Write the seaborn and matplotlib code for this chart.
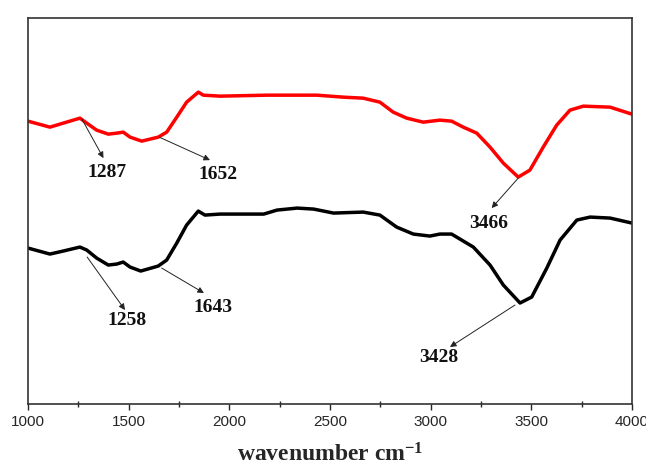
import numpy as np
import pandas as pd
import matplotlib
matplotlib.use("Agg")
import matplotlib.pyplot as plt
import seaborn as sns

# wavenumber (cm^-1) and relative transmittance (arbitrary units)
red_wn = [1000, 1109, 1175, 1258, 1292, 1341, 1399, 1441, 1473, 1507, 1565, 1647, 1689, 1739,
          1788, 1846, 1871, 1954, 2186, 2434, 2566, 2665, 2748, 2814, 2881, 2963, 3046,
          3104, 3162, 3229, 3295, 3361, 3435, 3493, 3559, 3626, 3692, 3758, 3891, 4000]
red_T = [283, 277, 281, 286, 281, 274, 270, 271, 272, 267, 263, 267, 272, 287,
         302, 312, 309, 308, 309, 309, 307, 306, 302, 292, 286, 282, 284,
         283, 277, 271, 257, 241, 227, 234, 257, 279, 294, 298, 297, 290]

black_wn = [1000, 1109, 1175, 1258, 1292, 1341, 1399, 1441, 1473, 1507, 1560, 1647, 1689, 1739,
            1788, 1846, 1879, 1954, 2171, 2237, 2337, 2419, 2518, 2665, 2748, 2831, 2914,
            2996, 3046, 3104, 3212, 3295, 3361, 3444, 3502, 3577, 3643, 3726, 3792, 3891, 4000]
black_T = [156, 150, 153, 157, 154, 146, 139, 140, 142, 137, 133, 138, 144, 161,
           179, 193, 189, 190, 190, 194, 196, 195, 191, 192, 189, 177, 170,
           168, 170, 170, 157, 139, 119, 101, 107, 136, 164, 184, 187, 186, 181]

annot_labels = ["1287", "1652", "3466", "1258", "1643", "3428"]
annot_tail = [(1268, 285), (1652, 267), (3435, 226), (1294, 147), (1664, 136), (3419, 99)]
annot_head = [(1375, 246), (1904, 244), (3303, 196), (1482, 94), (1874, 111), (3096, 57)]
annot_text = [(1391, 232), (1945, 230), (3286, 181), (1490, 84), (1920, 97), (3038, 46)]

sns.set_theme(style="ticks")
plt.rcParams["font.family"] = ["Liberation Sans", "DejaVu Sans"]
plt.rcParams["mathtext.fontset"] = "custom"
plt.rcParams["mathtext.rm"] = "Liberation Serif:bold"
plt.rcParams["mathtext.bf"] = "Liberation Serif:bold"
plt.rcParams["mathtext.it"] = "Liberation Serif:bold"

fig = plt.figure(figsize=(6.46, 4.67), dpi=100)
ax = fig.add_axes([0.0433, 0.135, 0.935, 0.826])

red_df = pd.DataFrame({"wn": red_wn, "T": red_T})
black_df = pd.DataFrame({"wn": black_wn, "T": black_T})
sns.lineplot(data=red_df, x="wn", y="T", color="#ff0000", lw=2.5, ax=ax,
             solid_joinstyle="round", solid_capstyle="round", sort=False)
sns.lineplot(data=black_df, x="wn", y="T", color="#000000", lw=2.5, ax=ax,
             solid_joinstyle="round", solid_capstyle="round", sort=False)

for lab, tail, head, txt in zip(annot_labels, annot_tail, annot_head, annot_text):
    ax.annotate("", xy=head, xytext=tail,
                arrowprops=dict(arrowstyle="-|>", color="#222222", lw=0.7,
                                mutation_scale=9, shrinkA=0, shrinkB=0))
    ax.text(txt[0], txt[1], lab, ha="center", va="center",
            fontsize=14, fontweight="bold", family="Liberation Serif", color="#111111")

ax.set_xlim(1000, 4000)
ax.set_ylim(0, 386)
ax.set_xticks([1000, 1500, 2000, 2500, 3000, 3500, 4000])
ax.set_xticks([1250, 1750, 2250, 2750, 3250, 3750], minor=True)
ax.set_yticks([])
ax.tick_params(axis="x", which="major", direction="out", length=4, width=1, labelsize=11, pad=4)
ax.tick_params(axis="x", which="minor", direction="inout", length=4, width=1)
for sp in ax.spines.values():
    sp.set_linewidth(1.2)
    sp.set_color("#333333")
ax.set_xlabel("wavenumber cm$^{-1}$", fontsize=17, fontweight="bold",
              family="Liberation Serif", labelpad=10)
ax.set_ylabel("")
fig.savefig("out.png", dpi=100)
